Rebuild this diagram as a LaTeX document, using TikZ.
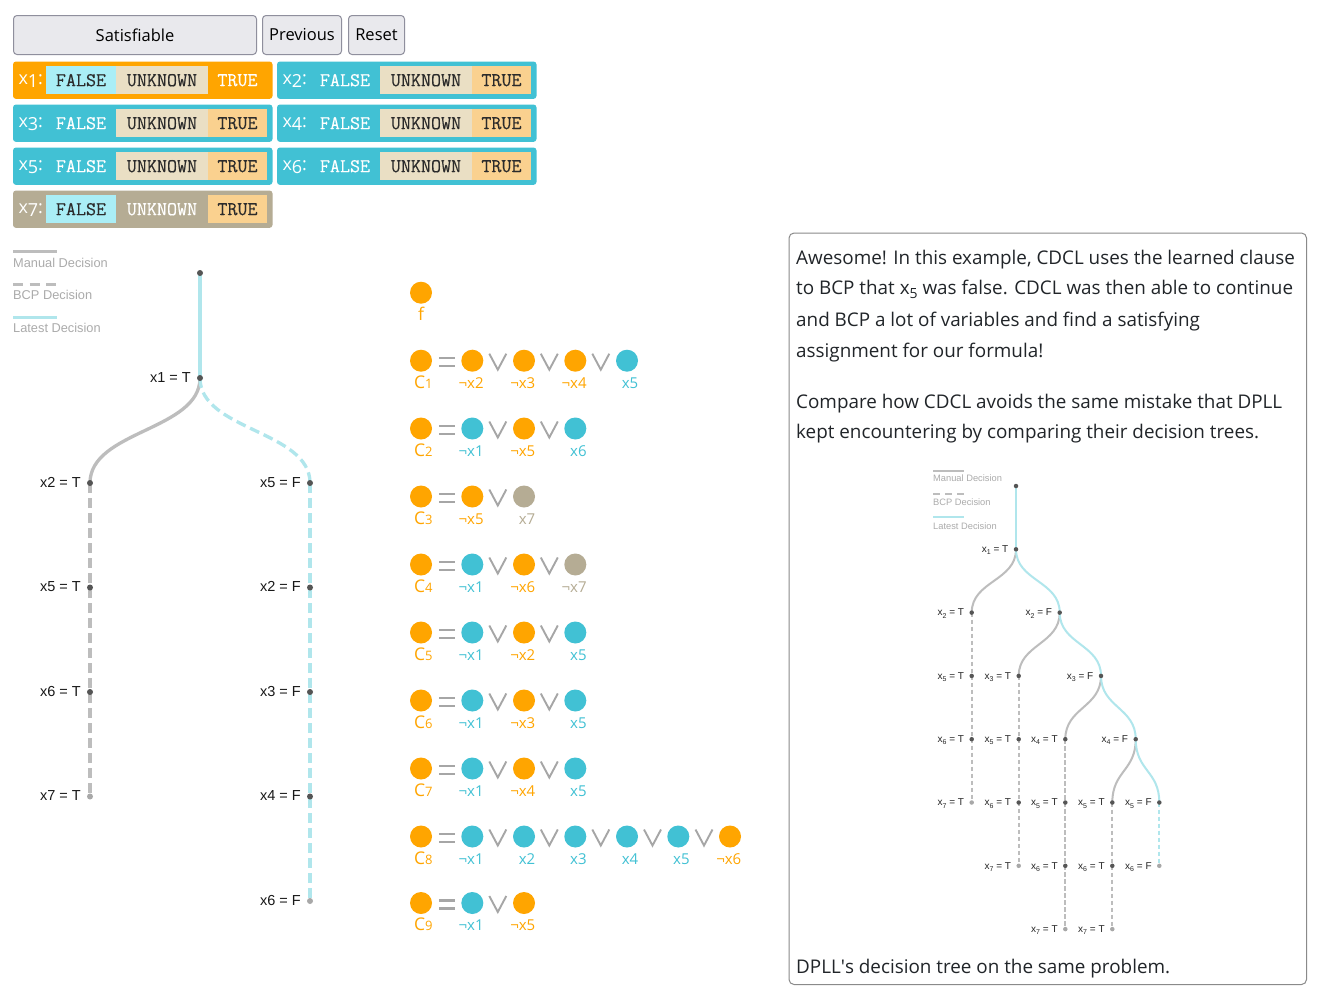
\documentclass[tikz,border=0pt]{standalone}
\usepackage{fontspec}
\setmainfont{Open Sans}
\newfontfamily\plainf{Open Sans}
\newfontfamily\arialf{Liberation Sans}
\newfontfamily\monof{Latin Modern Mono}[FakeBold=0.4]
\usetikzlibrary{calc}
\newcommand\fs[1]{\fontsize{#1}{#1}\selectfont}
\definecolor{cOr}{HTML}{FFA500}
\definecolor{cTe}{HTML}{41C1D4}
\definecolor{cUn}{HTML}{B5AC94}
\definecolor{cFa}{HTML}{AAEEF6}
\definecolor{cUk}{HTML}{EADFC4}
\definecolor{cTr}{HTML}{FAD18F}
\definecolor{cTxt}{HTML}{2B2B2B}
\definecolor{cBtnF}{HTML}{E9E9ED}
\definecolor{cBtnB}{HTML}{8F8F9D}
\definecolor{cMan}{HTML}{BDBDBD}
\definecolor{cLat}{HTML}{B0E6EC}
\definecolor{cDot}{HTML}{555555}
\definecolor{cLeaf}{HTML}{A8A8A8}
\definecolor{cLeg}{HTML}{ABABAB}
\definecolor{cOp}{HTML}{A6A6A6}
\definecolor{cBox}{HTML}{8A8A8A}
\definecolor{cBody}{HTML}{212529}
\newcommand\tlink[3]{\path ($(#2)!0.5!(#3)$) coordinate (tmid);
  \draw[#1] (#2) .. controls (#2 |- tmid) and (#3 |- tmid) .. (#3);}
\newcommand\vseg[7]{\node[segbox, minimum width=#4pt, fill=#5, text=#6] (#1) at (#2,#3) {#7};}
\newcommand\vbase[5]{\node[panel, fill=#5] (#1) at (#2,#3) {};
  \node[plab] (#1l) at (#2+5.5,#3+23) {x\raisebox{-3pt}{#4}:};}
\newcommand\vpT[4]{\vbase{#1}{#2}{#3}{#4}{cOr}
  \vseg{#1f}{#2+33}{#3+4.7}{70}{cFa}{cTxt}{FALSE}
  \vseg{#1u}{#2+103}{#3+4.7}{92}{cUk}{cTxt}{UNKNOWN}
  \vseg{#1t}{#2+195}{#3+4.7}{59}{none}{white}{TRUE}}
\newcommand\vpF[4]{\vbase{#1}{#2}{#3}{#4}{cTe}
  \vseg{#1f}{#2+33}{#3+4.7}{70}{none}{white}{FALSE}
  \vseg{#1u}{#2+103}{#3+4.7}{92}{cUk}{cTxt}{UNKNOWN}
  \vseg{#1t}{#2+195}{#3+4.7}{59}{cTr}{cTxt}{TRUE}}
\newcommand\vpU[4]{\vbase{#1}{#2}{#3}{#4}{cUn}
  \vseg{#1f}{#2+33}{#3+4.7}{70}{cFa}{cTxt}{FALSE}
  \vseg{#1u}{#2+103}{#3+4.7}{92}{none}{white}{UNKNOWN}
  \vseg{#1t}{#2+195}{#3+4.7}{59}{cTr}{cTxt}{TRUE}}
\newcommand\lit[5]{\node[litc, fill=#4] (#1) at (#2,#3) {};
  \node[litl, text=#4] (#1l) at (#2+11.5,#3+27.5) {#5};}
\newcommand\cl[3]{\node[litc, fill=cOr] (#1) at (421,#2) {};
  \node[clab] (#1l) at (432.7,#2+27.5) {C{\fs{13}#3}};
  \draw[eqsym] (439.3,#2-2.5) -- (455,#2-2.5) (439.3,#2+5.3) -- (455,#2+5.3);}
\newcommand\orv[2]{\draw[orsym] (#1-8.5,#2-7) -- (#1,#2+9) -- (#1+8.5,#2-7);}
\newcommand\bnode[4]{\node[#1] (#2) at (#3) {};
  \node[blab] (#2l) at ($(#3)+(-9,4.3)$) {#4};}
\newcommand\snode[5]{\node[#1] (#2) at (#3) {};
  \node[slab] (#2l) at ($(#3)+(-7.5,3.3)$) {x\raisebox{-2.3pt}{\fs{7}#4} = #5};}
\tikzset{
  btn/.style={draw=cBtnB, fill=cBtnF, rounded corners=3.5pt, line width=1pt, font={\fs{16.5}}, text=black, inner sep=0pt, anchor=north west, minimum height=39pt},
  panel/.style={rounded corners=3pt, inner sep=0pt, anchor=north west, minimum height=37.4pt, minimum width=259.5pt},
  segbox/.style={inner sep=0pt, anchor=north west, minimum height=28pt, font={\monof\fs{19.5}}},
  plab/.style={anchor=base west, text=white, font={\fs{18}}, inner sep=0pt},
  litc/.style={circle, minimum size=22pt, inner sep=0pt},
  litl/.style={anchor=base east, font={\fs{15}}, inner sep=0pt},
  clab/.style={anchor=base east, font={\fs{17.5}}, inner sep=0pt, text=cOr},
  eqsym/.style={draw=cOp, line width=2.4pt},
  orsym/.style={draw=cOp, line width=1.9pt},
  bman/.style={draw=cMan, line width=3.3pt},
  bbcp/.style={bman, dash pattern=on 10pt off 5pt},
  blat/.style={draw=cLat, line width=3.3pt},
  blatbcp/.style={blat, dash pattern=on 10pt off 5pt},
  bdot/.style={circle, fill=cDot, inner sep=0pt, minimum size=6pt},
  bleaf/.style={bdot, fill=cLeaf},
  blab/.style={anchor=base east, font={\arialf\fs{14.5}}, text=black!90, inner sep=0pt},
  sman/.style={draw=cMan, line width=2pt},
  sbcp/.style={sman, dash pattern=on 4.5pt off 2.5pt},
  slat/.style={draw=cLat, line width=2pt},
  slatbcp/.style={slat, dash pattern=on 4.5pt off 2.5pt},
  sdot/.style={circle, fill=cDot, inner sep=0pt, minimum size=4.5pt},
  sleaf/.style={sdot, fill=cLeaf},
  slab/.style={anchor=base east, font={\arialf\fs{10}}, text=black!85, inner sep=0pt},
  leg/.style={anchor=west, font={\arialf\fs{12.8}}, text=cLeg, inner sep=0pt},
  sleg/.style={anchor=west, font={\arialf\fs{9.3}}, text=cLeg, inner sep=0pt},
  body/.style={anchor=base west, inner sep=0pt, font={\fs{18.85}}, text=cBody}
}
\begin{document}
\begin{tikzpicture}[x=1pt,y=-1pt]
\useasboundingbox[fill=white] (0,0) rectangle (1321,993);
% buttons
\node[btn, minimum width=243pt] (bsat) at (13,15) {Satisfiable};
\node[btn, minimum width=79pt] (bprev) at (262,15) {Previous};
\node[btn, minimum width=56pt] (breset) at (348,15) {Reset};
% variable panels
\vpT{p1}{12.8}{61.3}{1}
\vpF{p2}{276.8}{61.3}{2}
\vpF{p3}{12.8}{104.3}{3}
\vpF{p4}{276.8}{104.3}{4}
\vpF{p5}{12.8}{147.3}{5}
\vpF{p6}{276.8}{147.3}{6}
\vpU{p7}{12.8}{190.3}{7}
% legend (CDCL tree)
\draw[bman, line width=3pt] (13,251.7) -- (56.5,251.7);
\node[leg] (lg1) at (13,262.7) {Manual Decision};
\draw[bman, line width=3pt, dash pattern=on 10pt off 6.5pt] (13,284.3) -- (56.5,284.3);
\node[leg] (lg2) at (13,295) {BCP Decision};
\draw[blat, line width=3pt] (13,317.7) -- (56.5,317.7);
\node[leg] (lg3) at (13,328.3) {Latest Decision};
% CDCL tree
\coordinate (r0) at (200,273);
\coordinate (a1) at (200,378);
\coordinate (a2) at (90,483);
\coordinate (a3) at (90,587.5);
\coordinate (a4) at (90,692);
\coordinate (a5) at (90,796.5);
\coordinate (b1) at (310,483);
\coordinate (b2) at (310,587.5);
\coordinate (b3) at (310,692);
\coordinate (b4) at (310,796.5);
\coordinate (b5) at (310,901);
\draw[blat] (r0) -- (a1);
\tlink{bman}{a1}{a2}
\tlink{blatbcp}{a1}{b1}
\draw[bbcp] (a2) -- (a3) -- (a4) -- (a5);
\draw[blatbcp] (b1) -- (b2) -- (b3) -- (b4) -- (b5);
\node[bdot] (nr0) at (r0) {};
\bnode{bdot}{na1}{a1}{x1 = T}
\bnode{bdot}{na2}{a2}{x2 = T}
\bnode{bdot}{na3}{a3}{x5 = T}
\bnode{bdot}{na4}{a4}{x6 = T}
\bnode{bleaf}{na5}{a5}{x7 = T}
\bnode{bdot}{nb1}{b1}{x5 = F}
\bnode{bdot}{nb2}{b2}{x2 = F}
\bnode{bdot}{nb3}{b3}{x3 = F}
\bnode{bdot}{nb4}{b4}{x4 = F}
\bnode{bleaf}{nb5}{b5}{x6 = F}
% clauses
\node[litc, fill=cOr] (fc) at (421,292.7) {};
\node[anchor=base, font={\fs{17.5}}, text=cOr, inner sep=0pt] (fl) at (421,320.2) {f};
\cl{c1}{360.7}{1}
\lit{c1a}{472.3}{360.7}{cOr}{¬x2}\orv{497.8}{360.7}
\lit{c1b}{524}{360.7}{cOr}{¬x3}\orv{549.3}{360.7}
\lit{c1c}{575.3}{360.7}{cOr}{¬x4}\orv{600.8}{360.7}
\lit{c1d}{627}{360.7}{cTe}{x5}
\cl{c2}{428.5}{2}
\lit{c2a}{472.3}{428.5}{cTe}{¬x1}\orv{497.8}{428.5}
\lit{c2b}{524}{428.5}{cOr}{¬x5}\orv{549.3}{428.5}
\lit{c2c}{575.3}{428.5}{cTe}{x6}
\cl{c3}{496.5}{3}
\lit{c3a}{472.3}{496.5}{cOr}{¬x5}\orv{497.8}{496.5}
\lit{c3b}{524}{496.5}{cUn}{x7}
\cl{c4}{564.5}{4}
\lit{c4a}{472.3}{564.5}{cTe}{¬x1}\orv{497.8}{564.5}
\lit{c4b}{524}{564.5}{cOr}{¬x6}\orv{549.3}{564.5}
\lit{c4c}{575.3}{564.5}{cUn}{¬x7}
\cl{c5}{632.5}{5}
\lit{c5a}{472.3}{632.5}{cTe}{¬x1}\orv{497.8}{632.5}
\lit{c5b}{524}{632.5}{cOr}{¬x2}\orv{549.3}{632.5}
\lit{c5c}{575.3}{632.5}{cTe}{x5}
\cl{c6}{700.5}{6}
\lit{c6a}{472.3}{700.5}{cTe}{¬x1}\orv{497.8}{700.5}
\lit{c6b}{524}{700.5}{cOr}{¬x3}\orv{549.3}{700.5}
\lit{c6c}{575.3}{700.5}{cTe}{x5}
\cl{c7}{768.5}{7}
\lit{c7a}{472.3}{768.5}{cTe}{¬x1}\orv{497.8}{768.5}
\lit{c7b}{524}{768.5}{cOr}{¬x4}\orv{549.3}{768.5}
\lit{c7c}{575.3}{768.5}{cTe}{x5}
\cl{c8}{836.5}{8}
\lit{c8a}{472.3}{836.5}{cTe}{¬x1}\orv{497.8}{836.5}
\lit{c8b}{524}{836.5}{cTe}{x2}\orv{549.3}{836.5}
\lit{c8c}{575.3}{836.5}{cTe}{x3}\orv{600.8}{836.5}
\lit{c8d}{627}{836.5}{cTe}{x4}\orv{652.5}{836.5}
\lit{c8e}{678.3}{836.5}{cTe}{x5}\orv{704}{836.5}
\lit{c8f}{730}{836.5}{cOr}{¬x6}
\cl{c9}{903}{9}
\lit{c9a}{472.3}{903}{cTe}{¬x1}\orv{497.8}{903}
\lit{c9b}{524}{903}{cOr}{¬x5}
% text box
\node[draw=cBox, rounded corners=5pt, line width=1pt, minimum width=517.5pt, minimum height=751.5pt, anchor=north west, inner sep=0pt] (tbox) at (788.5,232.5) {};
\node[body] (t1) at (796,264) {Awesome! In this example, CDCL uses the learned clause};
\node[body] (t2) at (796,294) {to BCP that x\raisebox{-4pt}{\fs{14}5} was false. CDCL was then able to continue};
\node[body] (t3) at (796,326) {and BCP a lot of variables and find a satisfying};
\node[body] (t4) at (796,357) {assignment for our formula!};
\node[body] (t5) at (796,408) {Compare how CDCL avoids the same mistake that DPLL};
\node[body] (t6) at (796,438) {kept encountering by comparing their decision trees.};
\node[body] (t7) at (796,973) {DPLL{\plainf'}s decision tree on the same problem.};
% DPLL legend
\draw[sman] (933,471) -- (964,471);
\node[sleg] (sl1) at (933,478.3) {Manual Decision};
\draw[sman, dash pattern=on 7.3pt off 4.7pt] (933,494) -- (964,494);
\node[sleg] (sl2) at (933,501.7) {BCP Decision};
\draw[slat] (933,517.3) -- (964,517.3);
\node[sleg] (sl3) at (933,525.7) {Latest Decision};
% DPLL tree
\coordinate (s0) at (1016,486);
\coordinate (s1) at (1016,549.3);
\coordinate (s2) at (971.7,612.6);
\coordinate (s3) at (1059.7,612.6);
\coordinate (s4) at (971.7,675.9);
\coordinate (s5) at (1018.7,675.9);
\coordinate (s6) at (1101,675.9);
\coordinate (s7) at (971.7,739.2);
\coordinate (s8) at (1018.7,739.2);
\coordinate (s9) at (1065.3,739.2);
\coordinate (s10) at (1135.7,739.2);
\coordinate (s11) at (971.7,802.5);
\coordinate (s12) at (1018.7,802.5);
\coordinate (s13) at (1065.3,802.5);
\coordinate (s14) at (1112.3,802.5);
\coordinate (s15) at (1159.3,802.5);
\coordinate (s16) at (1018.7,865.8);
\coordinate (s17) at (1065.3,865.8);
\coordinate (s18) at (1112.3,865.8);
\coordinate (s19) at (1159.3,865.8);
\coordinate (s20) at (1065.3,929.1);
\coordinate (s21) at (1112.3,929.1);
\tlink{sman}{s1}{s2}
\tlink{sman}{s3}{s5}
\tlink{sman}{s6}{s9}
\tlink{sman}{s10}{s14}
\draw[sbcp] (s2) -- (s4) -- (s7) -- (s11);
\draw[sbcp] (s5) -- (s8) -- (s12) -- (s16);
\draw[sbcp] (s9) -- (s13) -- (s17) -- (s20);
\draw[sbcp] (s14) -- (s18) -- (s21);
\draw[slat] (s0) -- (s1);
\tlink{slat}{s1}{s3}
\tlink{slat}{s3}{s6}
\tlink{slat}{s6}{s10}
\tlink{slat}{s10}{s15}
\draw[slatbcp] (s15) -- (s19);
\node[sdot] (m0) at (s0) {};
\snode{sdot}{m1}{s1}{1}{T}
\snode{sdot}{m2}{s2}{2}{T}
\snode{sdot}{m3}{s3}{2}{F}
\snode{sdot}{m4}{s4}{5}{T}
\snode{sdot}{m5}{s5}{3}{T}
\snode{sdot}{m6}{s6}{3}{F}
\snode{sdot}{m7}{s7}{6}{T}
\snode{sdot}{m8}{s8}{5}{T}
\snode{sdot}{m9}{s9}{4}{T}
\snode{sdot}{m10}{s10}{4}{F}
\snode{sleaf}{m11}{s11}{7}{T}
\snode{sdot}{m12}{s12}{6}{T}
\snode{sdot}{m13}{s13}{5}{T}
\snode{sdot}{m14}{s14}{5}{T}
\snode{sdot}{m15}{s15}{5}{F}
\snode{sleaf}{m16}{s16}{7}{T}
\snode{sdot}{m17}{s17}{6}{T}
\snode{sdot}{m18}{s18}{6}{T}
\snode{sleaf}{m19}{s19}{6}{F}
\snode{sleaf}{m20}{s20}{7}{T}
\snode{sleaf}{m21}{s21}{7}{T}
\end{tikzpicture}
\end{document}
